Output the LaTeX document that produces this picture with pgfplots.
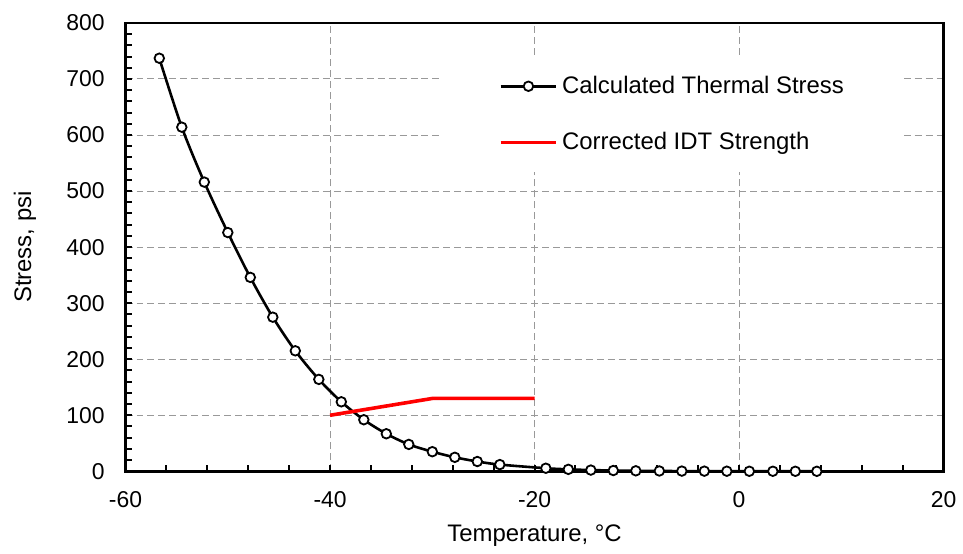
\documentclass[border=0pt]{standalone}
\usepackage{fontspec}
\setmainfont{Liberation Sans}
\usepackage{pgfplots}
\pgfplotsset{compat=1.18}
\begin{document}
\begin{tikzpicture}
\begin{axis}[
  scale only axis,
  width=410.5pt, height=225pt,
  xmin=-60, xmax=20, ymin=0, ymax=800,
  xtick={-60,-40,...,20}, ytick={0,100,...,800},
  minor x tick num=4, minor y tick num=4,
  tick pos=left, tick align=inside,
  major tick length=3pt, minor tick length=3pt,
  every tick/.style={black, line width=1pt},
  axis line style={black, line width=1.2pt},
  grid=major,
  major grid style={gray!80, line width=0.5pt, dash pattern=on 3.5pt off 2pt},
  /pgf/number format/assume math mode=true,
  ticklabel style={font=\fontsize{11.5}{13}\selectfont},
  xticklabel style={yshift=-6.5pt},
  yticklabel style={xshift=-7pt},
  xlabel={Temperature, °C},
  ylabel={Stress, psi},
  label style={font=\fontsize{12}{14}\selectfont},
  xlabel style={at={(axis description cs:0.5,0)}, anchor=center, yshift=-32.5pt},
  ylabel style={at={([xshift=-50.5pt]axis description cs:0,0.5)}, anchor=center},
  legend style={draw=none, fill=white, at={(axis cs:-29,739.6)}, anchor=north west,
    font=\fontsize{12}{14}\selectfont, row sep=14pt, inner xsep=28pt, inner ysep=7.5pt},
  legend cell align=left,
  legend image code/.code={\draw[mark repeat=2,mark phase=2,#1] plot coordinates {(0pt,0pt) (14pt,0pt) (28pt,0pt)};},
]
\addplot[black, line width=1.3pt, smooth, mark=*, mark size=2.4pt,
  mark options={fill=white, draw=black, line width=0.9pt}] coordinates {
(-56.7,737) (-54.5,614) (-52.3,516) (-50.0,426) (-47.8,346) (-45.6,275)
(-43.4,215) (-41.1,164) (-38.9,124) (-36.7,92) (-34.5,67) (-32.3,48)
(-30.0,35) (-27.8,25) (-25.6,17.5) (-23.4,12) (-18.9,5.5) (-16.7,3.5)
(-14.5,2.2) (-12.3,1.4) (-10.1,0.9) (-7.8,0.6) (-5.6,0.4) (-3.4,0.3)
(-1.2,0.2) (1.0,0.1) (3.3,0.1) (5.5,0.05) (7.6,0.03)
};
\addlegendentry{Calculated Thermal Stress}
\addplot[red, line width=1.8pt] coordinates {(-40,100) (-30,130) (-20,130)};
\addlegendentry{Corrected IDT Strength}
\end{axis}
\useasboundingbox (current axis.south west) ++(-63pt,-39.5pt) rectangle ([xshift=8pt,yshift=11.5pt]current axis.north east);
\end{tikzpicture}
\end{document}
